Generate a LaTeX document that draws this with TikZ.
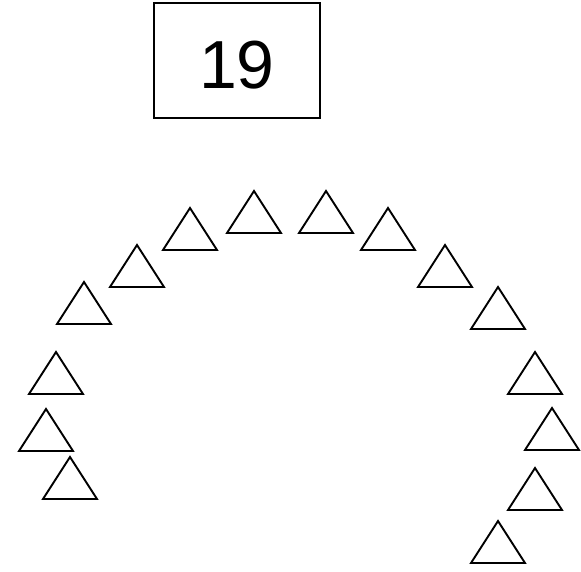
\documentclass[tikz,border=0pt]{standalone}
\usepackage{fontspec}
\setmainfont{Liberation Sans}
\usepackage{tikz}

\tikzset{
  tri/.style={line width=1.9pt, line join=miter},
  card/.style={draw, line width=1.3pt, minimum width=166pt, minimum height=115pt, inner sep=0pt}
}

\begin{document}
\begin{tikzpicture}[x=1pt,y=-1pt]
\useasboundingbox (0,0) rectangle (581,572);
\node[card,font=\fontsize{68}{68}\selectfont,text height=56pt,text depth=0pt] (num) at (237,60.5) {19};
% triangles, apex positions
\foreach \x/\y in {254/191, 190/208, 137/245, 84/282, 56/352, 46/409, 70/457,
                   326/191, 388/208, 445/245, 498/287, 535/352, 552/408, 535/468, 498/521}
  \draw[tri] (\x,\y) -- ++(27,42) -- ++(-54,0) -- cycle;
\end{tikzpicture}
\end{document}
